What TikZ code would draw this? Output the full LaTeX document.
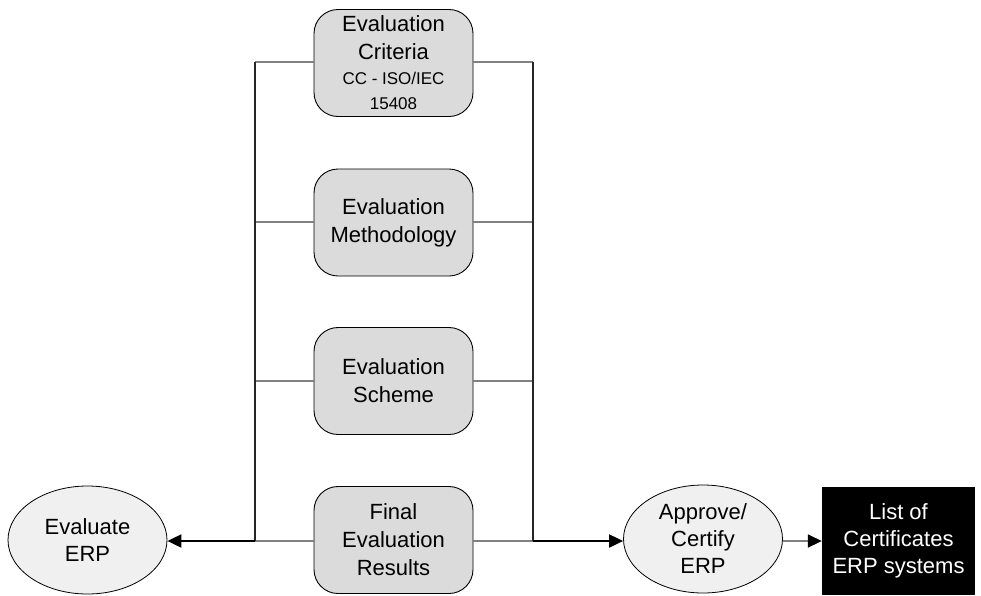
\documentclass[tikz,border=0pt]{standalone}
\usepackage{fontspec}
\setmainfont{Liberation Sans}
\usepackage{tikz}
\usetikzlibrary{arrows.meta, shapes.geometric}

\definecolor{boxgray}{HTML}{DBDBDB}
\definecolor{ovalgray}{HTML}{F0F0F0}
\definecolor{linkgray}{HTML}{808080}

\tikzset{
  stepbox/.style={draw=black, line width=0.9pt, fill=boxgray, rounded corners=24pt,
    minimum width=159pt, minimum height=107pt, inner sep=0pt, align=center,
    font=\fontsize{22}{28}\selectfont},
  oval/.style={draw=black, line width=0.8pt, fill=ovalgray, ellipse,
    minimum width=159pt, minimum height=108pt, inner sep=0pt, align=center,
    font=\fontsize{22}{27}\selectfont},
  listbox/.style={fill=black, text=white, minimum width=153pt, minimum height=108pt,
    inner sep=0pt, align=center, font=\fontsize{22}{27}\selectfont},
  link/.style={draw=linkgray, line width=1.6pt},
  bus/.style={draw=black!85, line width=1.1pt},
  main/.style={draw=black, line width=2pt, -{Triangle[length=14pt,width=13pt]}},
  outlink/.style={draw=linkgray, line width=1.6pt, -{Triangle[length=14pt,width=13pt,black]}}
}

\begin{document}
\begin{tikzpicture}[x=1pt, y=-1pt]
       \useasboundingbox (0,0) rectangle (981,595);
       % middle column
       \node[stepbox] (crit) at (393.5,63) {Evaluation\\Criteria\\[-3pt]
         {\fontsize{17}{25}\selectfont CC - ISO/IEC}\\[-3pt]
         {\fontsize{17}{25}\selectfont 15408}};
       \node[stepbox] (meth) at (393.5,222.5) {Evaluation\\Methodology};
       \node[stepbox] (schm) at (393.5,381) {Evaluation\\Scheme};
       \node[stepbox] (res) at (393.5,540) {Final\\Evaluation\\Results};
       % outer nodes
       \node[oval] (eval) at (87.5,540) {Evaluate\\ERP};
       \node[oval] (appr) at (703,539) {Approve/\\Certify\\ERP};
       \node[listbox] (list) at (898.5,541) {List of\\Certificates\\ERP systems};
       % junctions
       \coordinate (l1) at (255,62);
       \coordinate (l2) at (255,222);
       \coordinate (l3) at (255,381);
       \coordinate (l4) at (255,541);
       \coordinate (r1) at (533,62);
       \coordinate (r2) at (533,222);
       \coordinate (r3) at (533,381);
       \coordinate (r4) at (533,541);
       \draw[link] (crit.west|-l1) -- (l1);
       \draw[link] (meth.west|-l2) -- (l2);
       \draw[link] (schm.west|-l3) -- (l3);
       \draw[link] (res.west|-l4) -- (l4);
       \draw[link] (crit.east|-r1) -- (r1);
       \draw[link] (meth.east|-r2) -- (r2);
       \draw[link] (schm.east|-r3) -- (r3);
       \draw[link] (res.east|-r4) -- (r4);
       \draw[bus] (l1) -- (l4);
       \draw[bus] (r1) -- (r4);
       \draw[main] (l4) -- (eval.east|-l4);
       \draw[main] (r4) -- (appr.west|-r4);
       \draw[outlink] (appr.east|-r4) -- (list.west|-r4);
     \end{tikzpicture}
\end{document}
